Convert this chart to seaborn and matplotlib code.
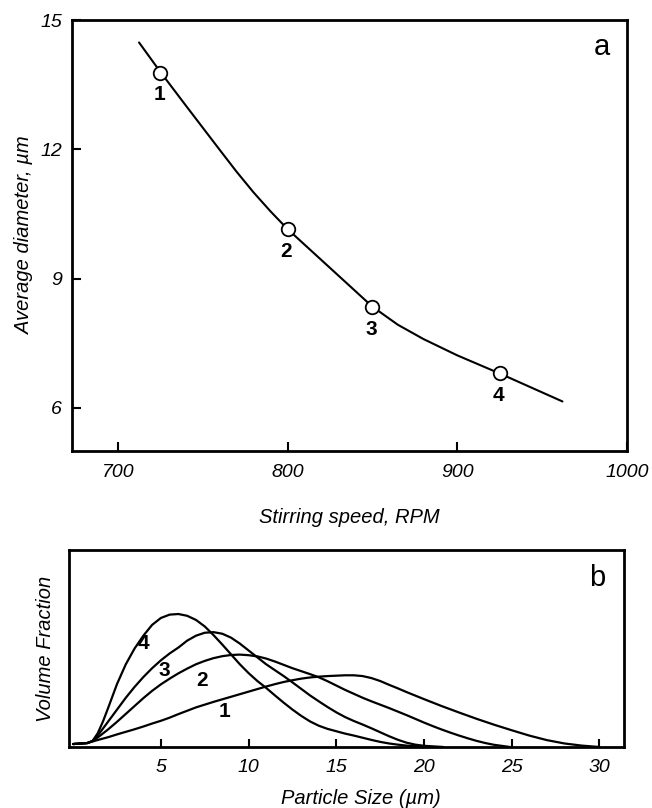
import matplotlib
matplotlib.use("Agg")
import matplotlib.pyplot as plt
import seaborn as sns
import pandas as pd

# (a) average diameter vs stirring speed
speed_rpm = [725, 800, 850, 925]
diameter_um = [13.78, 10.15, 8.34, 6.80]
run_labels = ["1", "2", "3", "4"]

# guide curve through the points
curve_rpm = [712.5, 725, 740, 760, 770, 780, 790, 800, 820, 850, 865, 880, 900, 925, 962]
curve_diam = [14.48, 13.80, 13.02, 11.99, 11.48, 11.0, 10.56, 10.15, 9.43, 8.35, 7.93, 7.60, 7.22, 6.80, 6.15]

# (b) volume fraction vs particle size, one curve per run
size_1 = [0.0, 0.8, 1.1, 1.5, 2.0, 2.5, 3.0, 3.5, 4.0, 4.5, 5.0, 5.5, 6.0, 6.5, 7.0, 7.5, 8.0, 8.5,
          9.0, 9.5, 10.0, 10.5, 11.0, 11.5, 12.0, 12.5, 13.0, 13.5, 14.0, 14.5, 15.0, 15.5, 16.0,
          16.5, 17.0, 17.5, 18.0, 18.5, 19.0, 19.5, 20.0, 21.0, 22.0, 23.0, 24.0, 25.0, 26.0,
          27.0, 28.0, 29.0, 30.0]
frac_1 = [0.015, 0.02, 0.028, 0.038, 0.05, 0.064, 0.077, 0.09, 0.104, 0.119, 0.133, 0.149, 0.167,
          0.184, 0.201, 0.215, 0.229, 0.242, 0.255, 0.268, 0.281, 0.294, 0.307, 0.319, 0.33, 0.339,
          0.347, 0.353, 0.357, 0.36, 0.362, 0.364, 0.364, 0.36, 0.35, 0.335, 0.316, 0.298, 0.279,
          0.261, 0.243, 0.208, 0.175, 0.143, 0.113, 0.085, 0.058, 0.035, 0.018, 0.007, 0.0]

size_2 = [0.0, 0.8, 1.1, 1.5, 2.0, 2.5, 3.0, 3.5, 4.0, 4.5, 5.0, 5.5, 6.0, 6.5, 7.0, 7.5, 8.0, 8.5,
          9.0, 9.5, 10.0, 10.5, 11.0, 11.5, 12.0, 12.5, 13.0, 13.5, 14.0, 14.5, 15.0, 15.5, 16.0,
          16.5, 17.0, 17.5, 18.0, 18.5, 19.0, 19.5, 20.0, 20.5, 21.0, 21.5, 22.0, 22.5, 23.0, 23.5,
          24.0, 24.5, 24.9]
frac_2 = [0.015, 0.02, 0.03, 0.055, 0.09, 0.128, 0.168, 0.208, 0.248, 0.285, 0.318, 0.347, 0.374,
          0.398, 0.42, 0.437, 0.451, 0.461, 0.467, 0.469, 0.466, 0.46, 0.449, 0.434, 0.417, 0.4,
          0.385, 0.37, 0.354, 0.334, 0.312, 0.29, 0.27, 0.25, 0.232, 0.215, 0.198, 0.18, 0.162,
          0.143, 0.124, 0.106, 0.089, 0.073, 0.058, 0.044, 0.031, 0.02, 0.011, 0.005, 0.0]

size_3 = [0.0, 0.8, 1.1, 1.5, 2.0, 2.5, 3.0, 3.5, 4.0, 4.5, 5.0, 5.5, 6.0, 6.5, 7.0, 7.5, 8.0, 8.5,
          9.0, 9.5, 10.0, 10.5, 11.0, 11.5, 12.0, 12.5, 13.0, 13.5, 14.0, 14.5, 15.0, 15.5, 16.0,
          16.5, 17.0, 17.5, 18.0, 18.5, 19.0, 19.5, 20.0, 21.1]
frac_3 = [0.015, 0.02, 0.03, 0.07, 0.13, 0.19, 0.25, 0.305, 0.355, 0.40, 0.44, 0.475, 0.505, 0.54,
          0.565, 0.58, 0.583, 0.575, 0.555, 0.525, 0.49, 0.455, 0.42, 0.39, 0.36, 0.328, 0.295,
          0.262, 0.232, 0.203, 0.176, 0.152, 0.132, 0.114, 0.095, 0.075, 0.055, 0.037, 0.022,
          0.012, 0.006, 0.0]

size_4 = [0.0, 0.8, 1.1, 1.4, 1.7, 2.0, 2.5, 3.0, 3.5, 4.0, 4.5, 5.0, 5.5, 6.0, 6.5, 7.0, 7.5, 8.0,
          8.5, 9.0, 9.5, 10.0, 10.5, 11.0, 11.5, 12.0, 12.5, 13.0, 13.5, 14.0, 14.5, 15.0, 15.5,
          16.0, 16.5, 17.0, 17.5, 18.0, 18.5, 19.0, 19.5, 20.3]
frac_4 = [0.015, 0.02, 0.03, 0.07, 0.13, 0.20, 0.32, 0.42, 0.50, 0.565, 0.62, 0.655, 0.672, 0.675,
          0.666, 0.645, 0.612, 0.568, 0.52, 0.47, 0.42, 0.375, 0.335, 0.30, 0.262, 0.225, 0.19,
          0.158, 0.13, 0.108, 0.092, 0.08, 0.068, 0.058, 0.047, 0.036, 0.026, 0.018, 0.012, 0.007,
          0.004, 0.0]

# where the run numbers sit in panel b
dist_label_x = [8.64, 7.32, 5.22, 4.03]
dist_label_y = [0.18, 0.34, 0.39, 0.526]

sns.set_theme(style="ticks")
plt.rcParams['font.family'] = ['Liberation Sans', 'DejaVu Sans']
plt.rcParams['font.style'] = 'italic'
plt.rcParams['axes.linewidth'] = 2.0
plt.rcParams['axes.edgecolor'] = 'black'
plt.rcParams['text.color'] = 'black'
plt.rcParams['axes.labelcolor'] = 'black'

label_font = ['Liberation Sans Narrow', 'Liberation Sans', 'DejaVu Sans']

fig = plt.figure(figsize=(6.52, 8.08), dpi=100)
ax_a = fig.add_axes([0.1104, 0.4418, 0.8512, 0.5334])
ax_b = fig.add_axes([0.1058, 0.0755, 0.8512, 0.2438])

# ---- panel a
sns.lineplot(x=curve_rpm, y=curve_diam, ax=ax_a, color='black', lw=1.5,
             estimator=None, sort=False)
sns.scatterplot(x=speed_rpm, y=diameter_um, ax=ax_a, s=95, color='white',
                edgecolor='black', linewidth=1.3, zorder=3)
for x, y, t in zip(speed_rpm, diameter_um, run_labels):
    ax_a.annotate(t, (x, y), xytext=(-1, -22), textcoords='offset pixels',
                  ha='center', va='center', fontsize=15, fontweight='bold',
                  fontstyle='normal', family=label_font)

ax_a.set_xlim(673, 1000)
ax_a.set_ylim(5, 15)
ax_a.set_xticks([700, 800, 900, 1000])
ax_a.set_yticks([6, 9, 12, 15])
ax_a.tick_params(direction='in', length=6.5, width=1.5, labelsize=14, pad=9, colors='black')
ax_a.tick_params(axis='y', pad=7)
ax_a.set_xlabel('Stirring speed, RPM', fontsize=14.5, labelpad=20)
ax_a.set_ylabel('Average diameter, \u00b5m', fontsize=14.5, labelpad=5)
ax_a.text(0.954, 0.938, 'a', transform=ax_a.transAxes, ha='center', va='center',
          fontsize=21, fontstyle='normal')

# ---- panel b
dist = pd.concat([
    pd.DataFrame({'size': size_1, 'frac': frac_1, 'run': '1'}),
    pd.DataFrame({'size': size_2, 'frac': frac_2, 'run': '2'}),
    pd.DataFrame({'size': size_3, 'frac': frac_3, 'run': '3'}),
    pd.DataFrame({'size': size_4, 'frac': frac_4, 'run': '4'}),
])
sns.lineplot(data=dist, x='size', y='frac', hue='run', units='run', estimator=None,
             sort=False, palette=['black'] * 4, lw=1.6, legend=False, ax=ax_b)
for x, y, t in zip(dist_label_x, dist_label_y, run_labels):
    ax_b.text(x, y, t, ha='center', va='center', fontsize=15, fontweight='bold',
              fontstyle='normal', family=label_font)

ax_b.set_xlim(-0.24, 31.4)
ax_b.set_ylim(0, 1)
ax_b.set_xticks([5, 10, 15, 20, 25, 30])
ax_b.set_yticks([])
ax_b.tick_params(direction='in', length=6, width=1.5, labelsize=14, pad=9, colors='black')
ax_b.set_xlabel('Particle Size (\u00b5m)', fontsize=14.5)
ax_b.xaxis.set_label_coords(0.526, -0.215)
ax_b.set_ylabel('Volume Fraction', fontsize=14.5, labelpad=10)
ax_b.text(0.951, 0.858, 'b', transform=ax_b.transAxes, ha='center', va='center',
          fontsize=21, fontstyle='normal')

fig.savefig('out.png', dpi=100)
